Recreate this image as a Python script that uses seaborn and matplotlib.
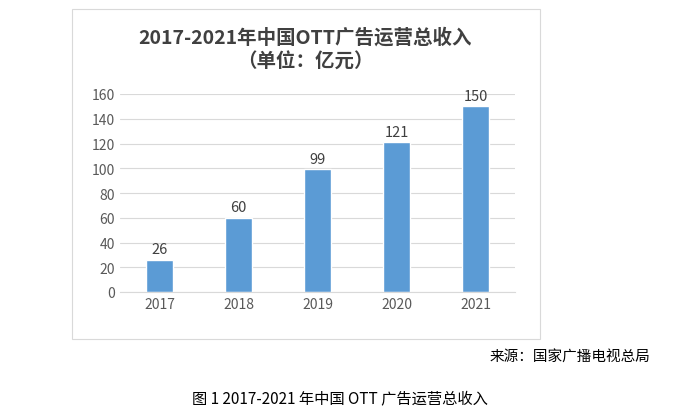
import matplotlib
matplotlib.use("Agg")
import matplotlib.pyplot as plt
import seaborn as sns
import pandas as pd
from matplotlib.patches import Rectangle

years = ["2017", "2018", "2019", "2020", "2021"]
revenue = [26, 60, 99, 121, 150]

sns.set_style("white")
plt.rcParams['font.family'] = ['Noto Sans CJK SC', 'DejaVu Sans']

df = pd.DataFrame({"year": years, "revenue": revenue})

fig = plt.figure(figsize=(6.75, 4.14), dpi=100)
W, H = 675, 414
# outer chart frame
fig.patches.append(Rectangle((72 / W, 1 - 340 / H), (540 - 72) / W, (340 - 10) / H,
                             transform=fig.transFigure, fill=False, edgecolor="#d9d9d9", lw=0.8))

ax = fig.add_axes([120 / W, 1 - 293 / H, (515 - 120) / W, (293 - 95) / H])
sns.barplot(data=df, x="year", y="revenue", color="#5B9BD5", saturation=1, width=0.35, ax=ax)
ax.set_ylim(0, 160)
ax.set_yticks(range(0, 161, 20))
ax.yaxis.grid(True, color="#d9d9d9", lw=0.8)
ax.set_axisbelow(True)
for s in ["top", "right", "left"]:
    ax.spines[s].set_visible(False)
ax.spines["bottom"].set_color("#d9d9d9")
ax.set_xlabel("")
ax.set_ylabel("")
ax.tick_params(axis="both", length=0, labelsize=10, colors="#595959")
for p, v in zip(ax.patches, revenue):
    ax.text(p.get_x() + p.get_width() / 2, v + 3, str(v), ha="center", va="bottom",
            fontsize=10.5, color="#404040")

fig.text(305 / W, 1 - 38 / H, "2017-2021年中国OTT广告运营总收入", ha="center", va="center",
         fontsize=14, fontweight="bold", color="#404040")
fig.text(305 / W, 1 - 62 / H, "（单位：亿元）", ha="center", va="center",
         fontsize=14, fontweight="bold", color="#404040")
fig.text(650 / W, 1 - 358 / H, "来源：国家广播电视总局", ha="right", va="center",
         fontsize=10.5, color="black")
fig.text(340 / W, 1 - 400 / H, "图 1 2017-2021 年中国 OTT 广告运营总收入", ha="center", va="center",
         fontsize=11, color="black")

fig.savefig("out.png", dpi=100)
